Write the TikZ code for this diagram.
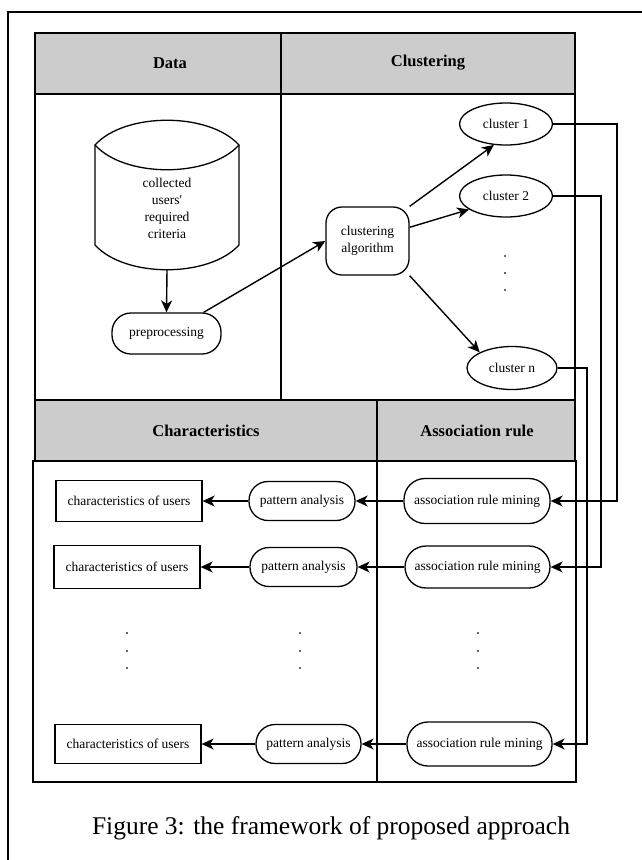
\documentclass[tikz,border=0pt]{standalone}
\usepackage{fontspec}
\setmainfont{Liberation Serif}
\usetikzlibrary{shapes.geometric,arrows.meta}
\begin{document}
\begin{tikzpicture}[x=1pt,y=-1pt,
  thick line/.style={line width=1.8pt},
  hdr/.style={fill=black!20,draw=black,line width=1.8pt},
  hdrtext/.style={font=\fontsize{16.5}{18}\selectfont\bfseries},
  ntext/.style={font=\fontsize{13.5}{17}\selectfont},
  pill/.style={draw,line width=1.3pt,rounded corners=19pt,inner sep=0pt,align=center,ntext},
  rbox/.style={draw,line width=1.3pt,inner sep=0pt,align=center,ntext},
  ell/.style={draw,ellipse,line width=1.3pt,inner sep=0pt,ntext},
  arr/.style={line width=1.4pt,-{Stealth[length=12pt,width=11pt,inset=3.5pt]}},
  conn/.style={line width=1.4pt,-{Stealth[length=12pt,width=11pt,inset=3.5pt]}},
  dotmark/.style={circle,fill=black!80,inner sep=0pt,minimum size=2.2pt}
]
\useasboundingbox (0,0) rectangle (642,860);
% outer frame
\draw[line width=1.5pt] (8,870) -- (8,12) -- (650,12);
% top table
\draw[hdr] (35,33) rectangle (281,94);
\draw[hdr] (281,33) rectangle (575,94);
\draw[thick line] (35,94) rectangle (575,400);
\draw[thick line] (281,94) -- (281,400);
\node[hdrtext] (hData) at (170,63) {Data};
\node[hdrtext] (hClu) at (428,63) {Clustering};
% bottom table
\draw[hdr] (35,400) rectangle (377,461);
\draw[hdr] (377,400) rectangle (575,461);
\draw[thick line] (33,461) rectangle (576,782);
\draw[thick line] (377,461) -- (377,782);
\node[hdrtext] (hCha) at (206,431) {Characteristics};
\node[hdrtext] (hAss) at (477,431) {Association rule};

% cylinder (stored data)
\draw[line width=1.3pt] (95,145) .. controls (125,112) and (209,112) .. (239,145)
  .. controls (209,178) and (125,178) .. (95,145) -- cycle;
\draw[line width=1.3pt] (95,145) -- (95,245) .. controls (125,278) and (209,278) .. (239,245) -- (239,145);
\node[ntext,align=center,inner sep=0pt] (cyl) at (167,208) {collected\\users\textquotesingle\\required\\criteria};
\coordinate (cylb) at (167,270);

% preprocessing
\node[pill,minimum width=109pt,minimum height=41pt] (pre) at (166.5,333.5) {preprocessing};
% clustering algorithm
\node[rbox,rounded corners=16pt,minimum width=83pt,minimum height=68pt] (alg) at (367.5,241) {clustering\\algorithm};
% clusters
\node[ell,minimum width=93pt,minimum height=42pt] (cl1) at (506,124) {cluster 1};
\node[ell,minimum width=93pt,minimum height=42pt] (cl2) at (506,196) {cluster 2};
\node[ell,minimum width=90pt,minimum height=43pt] (cln) at (512,368) {cluster n};
\node[dotmark] (td1) at (505,256) {};
\node[dotmark] (td2) at (505,273) {};
\node[dotmark] (td3) at (505,290) {};

% arrows top
\draw[arr] (cylb) -- (pre.north);
\draw[arr] ([xshift=-18pt]pre.north east) -- (alg.west);
\draw[arr] (alg.north east) -- (cl1.240);
\draw[arr] (alg.18) -- (cl2.200);
\draw[arr] (alg.south east) -- (cln.north west);

% bottom rows
\node[rbox,minimum width=146pt,minimum height=41pt] (ch1) at (129,501) {characteristics of users};
\node[rbox,minimum width=146pt,minimum height=43pt] (ch2) at (127,567) {characteristics of users};
\node[rbox,minimum width=146pt,minimum height=39pt] (ch3) at (128,744) {characteristics of users};
\node[pill,minimum width=106pt,minimum height=39pt] (pa1) at (302,501) {pattern analysis};
\node[pill,minimum width=107pt,minimum height=39pt] (pa2) at (303.5,567) {pattern analysis};
\node[pill,minimum width=105pt,minimum height=39pt] (pa3) at (308.5,744) {pattern analysis};
\node[pill,rounded corners=21pt,minimum width=146pt,minimum height=45pt] (amr1) at (477,501) {association rule mining};
\node[pill,rounded corners=21pt,minimum width=145pt,minimum height=42pt] (amr2) at (477.5,567) {association rule mining};
\node[pill,rounded corners=21pt,minimum width=145pt,minimum height=44pt] (amr3) at (479.5,744) {association rule mining};

\foreach \x/\n in {127/bda,300/bdb,478/bdc}{
  \node[dotmark] (\n1) at (\x,633) {};
  \node[dotmark] (\n2) at (\x,651) {};
  \node[dotmark] (\n3) at (\x,668) {};
}

\draw[arr] (amr1.west) -- (pa1.east);
\draw[arr] (pa1.west) -- (ch1.east);
\draw[arr] (amr2.west) -- (pa2.east);
\draw[arr] (pa2.west) -- (ch2.east);
\draw[arr] (amr3.west) -- (pa3.east);
\draw[arr] (pa3.west) -- (ch3.east);

% connectors on the right
\coordinate (r1) at (617,0);
\coordinate (r2) at (601,0);
\coordinate (r3) at (587,0);
\draw[conn] (cl1.east) -- (cl1.east -| r1) -- (amr1.east -| r1) -- (amr1.east);
\draw[conn] (cl2.east) -- (cl2.east -| r2) -- (amr2.east -| r2) -- (amr2.east);
\draw[conn] (cln.east) -- (cln.east -| r3) -- (amr3.east -| r3) -- (amr3.east);

% caption
\node[font=\fontsize{25.5}{30}\selectfont] (cap) at (331,828) {Figure 3: the framework of proposed approach};
\end{tikzpicture}
\end{document}
